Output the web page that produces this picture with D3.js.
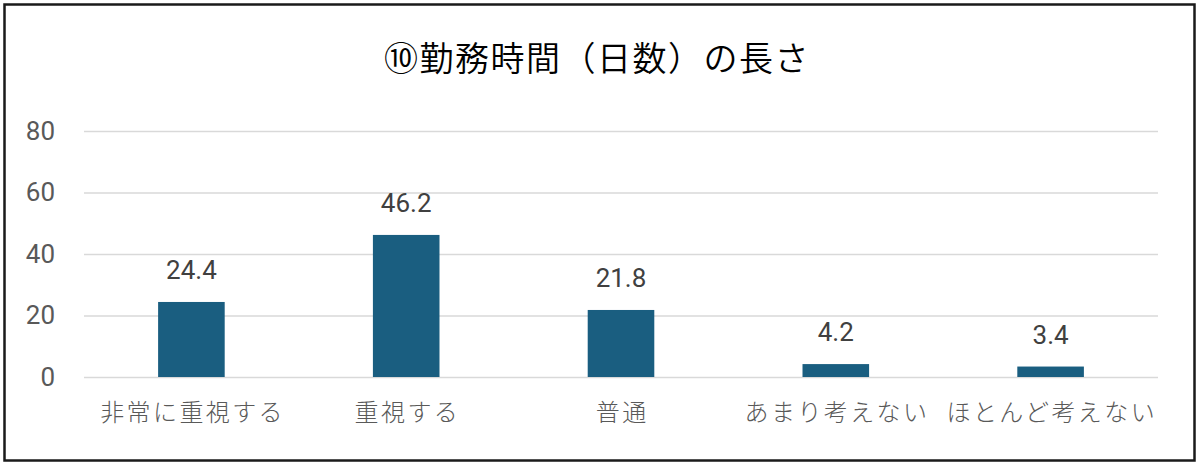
<!DOCTYPE html>
<html>
<head>
<meta charset="utf-8">
<script src="https://cdn.jsdelivr.net/npm/d3@7"></script>
<style>
  html, body { margin: 0; padding: 0; background: #fff; }
  svg text { font-family: Roboto, "Noto Sans CJK JP", sans-serif; }
</style>
</head>
<body>
<div class="visHolder"></div>
<script>
const w = 1200, h = 467;

// data
const chartTitle = '⑩勤務時間（日数）の長さ';
const categories = ['非常に重視する', '重視する', '普通', 'あまり考えない', 'ほとんど考えない'];
const values = [24.4, 46.2, 21.8, 4.2, 3.4];
const yTicks = [0, 20, 40, 60, 80];

const plotLeft = 84, plotRight = 1158, plotTop = 131, plotBottom = 377;

const svg = d3.select('.visHolder')
  .append('svg')
  .attr('width', w)
  .attr('height', h);

// outer frame
svg.append('rect')
  .attr('x', 4.5).attr('y', 4.5)
  .attr('width', 1190).attr('height', 456)
  .attr('fill', '#fff')
  .attr('stroke', '#1a1a1a')
  .attr('stroke-width', 2.5);

// title (letter-spacing adds a trailing gap, so nudge right by half of it)
svg.append('text')
  .attr('x', 597)
  .attr('y', 71)
  .attr('text-anchor', 'middle')
  .style('font-family', '"Noto Sans CJK JP", sans-serif')
  .style('font-weight', 350)
  .style('font-size', '34px')
  .style('letter-spacing', '1.5px')
  .attr('fill', '#000')
  .text(chartTitle);

const xScale = d3.scaleBand()
  .domain(categories)
  .range([plotLeft, plotRight]);

const yScale = d3.scaleLinear()
  .domain([0, 80])
  .range([plotBottom, plotTop]);

// gridlines + y labels via axis
const yAxis = d3.axisLeft(yScale)
  .tickValues(yTicks)
  .tickSize(-(plotRight - plotLeft))
  .tickPadding(29);

const yg = svg.append('g')
  .attr('transform', `translate(${plotLeft},0)`)
  .call(yAxis);
yg.select('.domain').remove();
yg.selectAll('.tick line').attr('stroke', '#d9d9d9').attr('stroke-width', 1.5);
yg.selectAll('.tick text')
  .attr('fill', '#595959')
  .style('font-size', '26px')
  .style('font-family', 'Roboto, sans-serif');

const barW = xScale.bandwidth() * 0.31;

svg.selectAll('rect.bar')
  .data(values)
  .enter()
  .append('rect')
  .attr('class', 'bar')
  .attr('x', (d, i) => xScale(categories[i]) + xScale.bandwidth() / 2 - barW / 2)
  .attr('y', d => yScale(d))
  .attr('width', barW)
  .attr('height', d => yScale(0) - yScale(d))
  .attr('fill', '#1a5e80');

// value labels
svg.selectAll('text.val')
  .data(values)
  .enter()
  .append('text')
  .attr('class', 'val')
  .attr('x', (d, i) => xScale(categories[i]) + xScale.bandwidth() / 2)
  .attr('y', d => yScale(d) - 23)
  .attr('text-anchor', 'middle')
  .attr('fill', '#404040')
  .style('font-size', '26px')
  .style('font-family', 'Roboto, sans-serif')
  .text(d => d.toFixed(1));

// x axis labels
const xAxis = d3.axisBottom(xScale).tickSize(0).tickPadding(27);
const xg = svg.append('g')
  .attr('transform', `translate(0,${plotBottom})`)
  .call(xAxis);
xg.select('.domain').remove();
xg.selectAll('.tick text')
  .attr('dx', '1.2px')
  .attr('fill', '#595959')
  .style('font-size', '24px')
  .style('font-weight', 300)
  .style('letter-spacing', '2.4px')
  .style('font-family', '"Noto Sans CJK JP", sans-serif');
</script>
</body>
</html>
